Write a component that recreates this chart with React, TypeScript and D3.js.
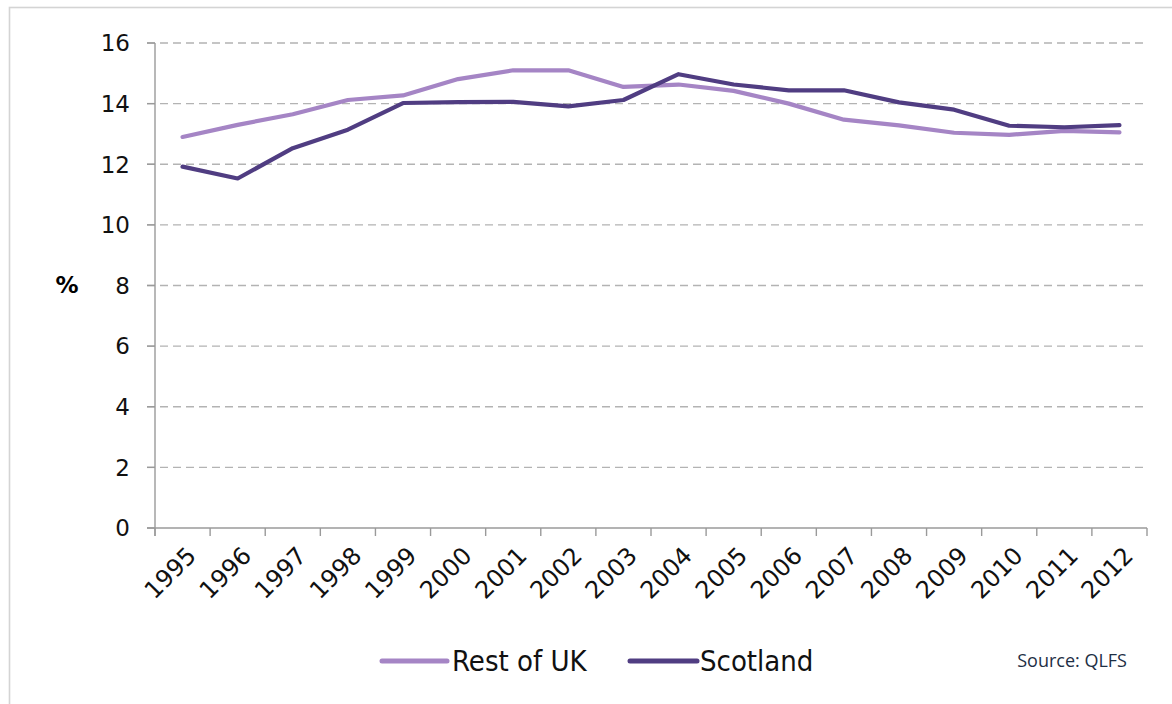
import React from "react";
import * as d3 from "d3";

const years = ["1995","1996","1997","1998","1999","2000","2001","2002","2003","2004","2005","2006","2007","2008","2009","2010","2011","2012"];
const restOfUK = [12.9, 13.3, 13.65, 14.12, 14.27, 14.81, 15.1, 15.1, 14.55, 14.63, 14.42, 14.0, 13.47, 13.28, 13.04, 12.97, 13.1, 13.05];
const scotland = [11.92, 11.53, 12.53, 13.14, 14.02, 14.05, 14.06, 13.91, 14.12, 14.97, 14.63, 14.44, 14.44, 14.04, 13.8, 13.27, 13.22, 13.29];
const yTicks = [0, 2, 4, 6, 8, 10, 12, 14, 16];

const series = [
  { name: "Rest of UK", values: restOfUK, color: "#a585c5" },
  { name: "Scotland", values: scotland, color: "#503d82" },
];

const W = 1172;
const H = 704;
const left = 155;
const right = 1147;
const top = 43;
const bottom = 528;

const tickFont = "'DejaVu Sans', sans-serif";
const legendFont = "'DejaVu Sans Condensed', 'DejaVu Sans', sans-serif";

export default function App() {
  const x = d3.scaleBand<string>().domain(years).range([left, right]);
  const y = d3.scaleLinear().domain([0, 16]).range([bottom, top]);
  const cx = (yr: string) => (x(yr) as number) + x.bandwidth() / 2;

  const line = d3
    .line<number>()
    .x((_, i) => cx(years[i]))
    .y((v) => y(v));

  const boundaries = years.map((yr) => x(yr) as number).concat([right]);

  return (
    <svg
      width={W}
      height={H}
      style={{ position: "absolute", left: 0, top: 0, background: "#fff" }}
    >
      {/* outer frame */}
      <rect x={9.5} y={7.5} width={W + 20} height={H + 20} fill="none" stroke="#d4d4d4" strokeWidth={1.6} />

      {/* gridlines */}
      {yTicks.filter((t) => t > 0).map((t) => (
        <line
          key={"g" + t}
          x1={left - 8}
          x2={right}
          y1={y(t)}
          y2={y(t)}
          stroke="#b3b3b3"
          strokeWidth={1.4}
          strokeDasharray="8,5"
        />
      ))}

      {/* y axis */}
      <line x1={left} x2={left} y1={top} y2={bottom + 8} stroke="#9a9a9a" strokeWidth={1.4} />
      {yTicks.map((t) => (
        <g key={"yt" + t}>
          <line x1={left - 8} x2={left} y1={y(t)} y2={y(t)} stroke="#9a9a9a" strokeWidth={1.4} />
          <text
            x={130}
            y={y(t)}
            dy="0.36em"
            textAnchor="end"
            fontFamily={tickFont}
            fontSize={23}
            fill="#111"
          >
            {t}
          </text>
        </g>
      ))}
      <text x={67} y={285} dy="0.36em" textAnchor="middle" fontFamily={tickFont} fontSize={23} fontWeight="bold" fill="#000">
        %
      </text>

      {/* x axis */}
      <line x1={left - 8} x2={right} y1={bottom} y2={bottom} stroke="#9a9a9a" strokeWidth={1.4} />
      {boundaries.map((bx, i) => (
        <line key={"xt" + i} x1={bx} x2={bx} y1={bottom} y2={bottom + 8} stroke="#9a9a9a" strokeWidth={1.4} />
      ))}
      {years.map((yr) => (
        <text
          key={"xl" + yr}
          transform={`translate(${cx(yr) + 9},${bottom + 23}) rotate(-45)`}
          textAnchor="end"
          dy="0.36em"
          fontFamily={tickFont}
          fontSize={24}
          fill="#111"
        >
          {yr}
        </text>
      ))}

      {/* series lines */}
      {series.map((s) => (
        <path
          key={s.name}
          d={line(s.values) as string}
          fill="none"
          stroke={s.color}
          strokeWidth={4.2}
          strokeLinejoin="round"
          strokeLinecap="round"
        />
      ))}

      {/* legend */}
      <g>
        <line x1={382} x2={447} y1={661} y2={661} stroke={series[0].color} strokeWidth={5} strokeLinecap="round" />
        <text x={452} y={661} dy="0.36em" fontFamily={legendFont} fontSize={29} fill="#111">
          {series[0].name}
        </text>
        <line x1={630} x2={697} y1={661} y2={661} stroke={series[1].color} strokeWidth={5} strokeLinecap="round" />
        <text x={700} y={661} dy="0.36em" fontFamily={legendFont} fontSize={29} fill="#111">
          {series[1].name}
        </text>
      </g>

      <text x={1127} y={661} dy="0.36em" textAnchor="end" fontFamily="'Open Sans', 'Noto Sans', sans-serif" fontSize={18} fill="#1e2f45">
        Source: QLFS
      </text>
    </svg>
  );
}
